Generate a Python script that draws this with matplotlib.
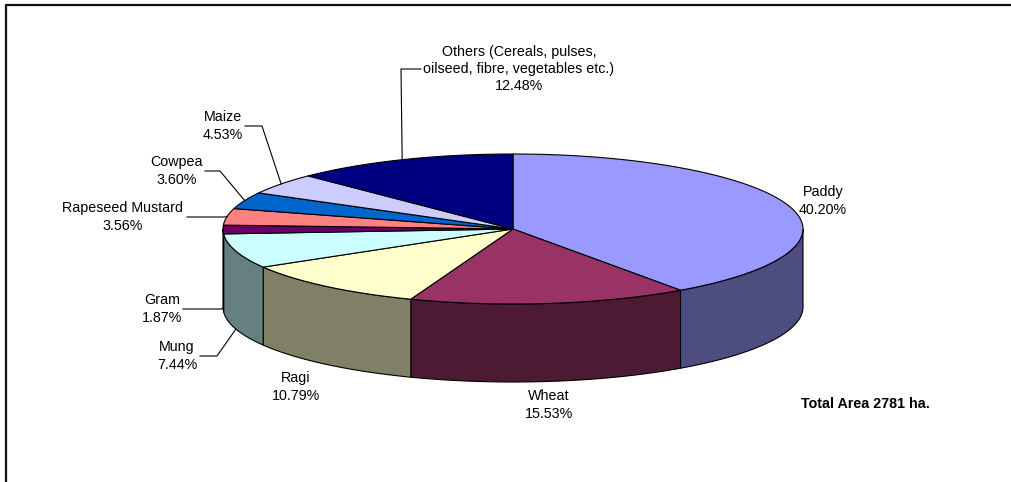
import numpy as np
import matplotlib
matplotlib.use("Agg")
import matplotlib.pyplot as plt
from matplotlib.patches import Polygon

plt.rcParams['font.family'] = ['Liberation Sans', 'DejaVu Sans']

# data (share of total area, %), clockwise from 12 o'clock
crops = ['Paddy', 'Wheat', 'Ragi', 'Mung', 'Gram', 'Rapeseed Mustard',
         'Cowpea', 'Maize', 'Others (Cereals, pulses,\noilseed, fibre, vegetables etc.)']
shares = [40.20, 15.53, 10.79, 7.44, 1.87, 3.56, 3.60, 4.53, 12.48]
total_note = 'Total Area 2781 ha.'

# excel-ish palette, side faces are half brightness
top_colors = ['#9999FF', '#993366', '#FFFFCC', '#CCFFFF', '#660066',
              '#FF8080', '#0066CC', '#CCCCFF', '#000080']

# layout of the "3d" pie in pixels
CX, CY = 513, 229
RX, RY = 290, 75
DEPTH = 78

# label layout: text centre, leader (start x, elbow x) or None
label_pos = {
    'Paddy': (823, 201, None),
    'Wheat': (549, 405, None),
    'Ragi': (296, 387, None),
    'Mung': (177, 356, (200, 217)),
    'Gram': (162, 309, (183, 222)),
    'Rapeseed Mustard': (123, 217, (187, 224)),
    'Cowpea': (177, 171, (205, 220)),
    'Maize': (223, 126, (245, 262)),
    'Others': (519, 69, (421, 401)),
}


def ellipse_pts(a_from, a_to, dy=0, n=80):
    # a = clockwise degrees from top
    a = np.linspace(a_from, a_to, n)
    th = np.radians(90 - a)
    return np.column_stack([CX + RX * np.cos(th), CY - RY * np.sin(th) + dy])


fig = plt.figure(figsize=(10.12, 4.82), dpi=100)
ax = fig.add_axes([0, 0, 1, 1])
ax.set_xlim(0, 1012)
ax.set_ylim(482, 0)
ax.axis('off')

# chart border (clipped at right and bottom)
ax.plot([6, 6, 1015], [485, 5, 5], color='#111111', lw=1.6, solid_capstyle='butt')

cum = np.concatenate([[0], np.cumsum(shares)]) / np.sum(shares) * 360.0

# side faces (front half only: 90..270 deg clockwise from top)
for i in range(len(shares)):
    lo = max(cum[i], 90)
    hi = min(cum[i + 1], 270)
    if hi <= lo:
        continue
    top = ellipse_pts(lo, hi)
    bot = ellipse_pts(hi, lo, DEPTH)
    side = np.array(matplotlib.colors.to_rgb(top_colors[i])) * 0.5
    ax.add_patch(Polygon(np.vstack([top, bot]), closed=True, facecolor=side,
                         edgecolor='black', lw=0.8, joinstyle='round'))

# top faces
for i in range(len(shares)):
    arc = ellipse_pts(cum[i], cum[i + 1])
    pts = np.vstack([[CX, CY], arc])
    ax.add_patch(Polygon(pts, closed=True, facecolor=top_colors[i],
                         edgecolor='black', lw=0.8, joinstyle='round'))

# labels and leader lines
for i, name in enumerate(crops):
    key = name.split(' (')[0]
    tx, ty, lead = label_pos[key]
    ax.text(tx, ty, '%s\n%.2f%%' % (name, shares[i]), ha='center', va='center',
            fontsize=10.3, linespacing=1.3, color='black')
    if lead is None:
        continue
    mid = (cum[i] + cum[i + 1]) / 2
    dy = DEPTH if 90 < mid < 270 else 0
    px, py = ellipse_pts(mid, mid, dy, n=1)[0]
    hx0, hx1 = lead
    ax.plot([hx0, hx1, px], [ty, ty, py], color='black', lw=0.8)

ax.text(865, 404, total_note, ha='center', va='center', fontsize=10.3,
        fontweight='bold', color='black')

fig.savefig('out.png', dpi=100)
